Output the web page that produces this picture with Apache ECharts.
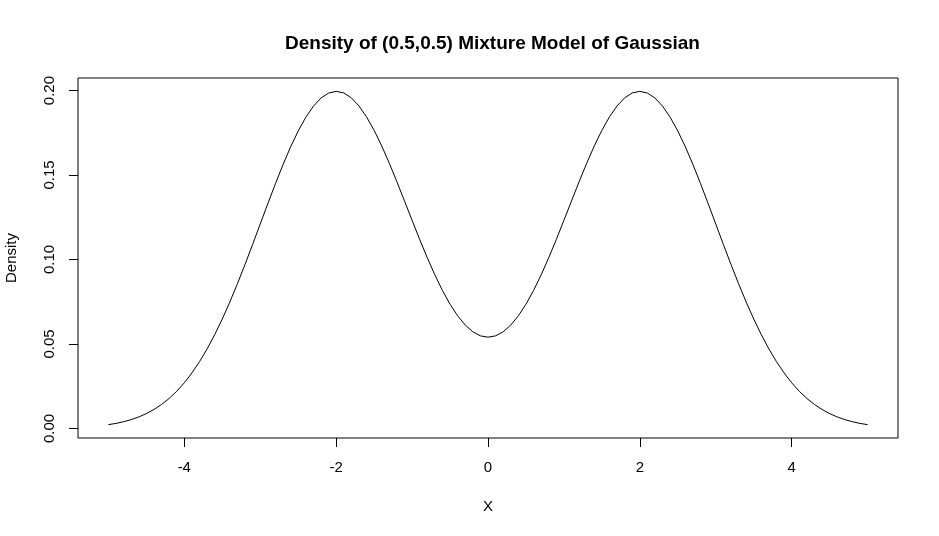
<!DOCTYPE html>
<html>
<head>
<meta charset="utf-8">
<script src="https://cdn.jsdelivr.net/npm/echarts@6/dist/echarts.min.js"></script>
<style>
html,body{margin:0;padding:0;background:#fff;}
#chart{width:939px;height:536px;}
</style>
</head>
<body>
<div id="chart"></div>
<script>
// x positions and density values
const xValues = [-5,-4.9,-4.8,-4.7,-4.6,-4.5,-4.4,-4.3,-4.2,-4.1,-4,-3.9,-3.8,-3.7,-3.6,-3.5,-3.4,-3.3,-3.2,-3.1,-3,-2.9,-2.8,-2.7,-2.6,-2.5,-2.4,-2.3,-2.2,-2.1,-2,-1.9,-1.8,-1.7,-1.6,-1.5,-1.4,-1.3,-1.2,-1.1,-1,-0.9,-0.8,-0.7,-0.6,-0.5,-0.4,-0.3,-0.2,-0.1,0,0.1,0.2,0.3,0.4,0.5,0.6,0.7,0.8,0.9,1,1.1,1.2,1.3,1.4,1.5,1.6,1.7,1.8,1.9,2,2.1,2.2,2.3,2.4,2.5,2.6,2.7,2.8,2.9,3,3.1,3.2,3.3,3.4,3.5,3.6,3.7,3.8,3.9,4,4.1,4.2,4.3,4.4,4.5,4.6,4.7,4.8,4.9,5];
const density = [0.00222,0.00298,0.00396,0.00521,0.00679,0.00876,0.01120,0.01416,0.01774,0.02199,0.02700,0.03281,0.03948,0.04703,0.05546,0.06476,0.07486,0.08569,0.09709,0.10893,0.12099,0.13305,0.14485,0.15613,0.16662,0.17604,0.18415,0.19071,0.19555,0.19852,0.19954,0.19858,0.19567,0.19091,0.18444,0.17647,0.16723,0.15699,0.14604,0.13468,0.12320,0.11190,0.10105,0.09090,0.08166,0.07352,0.06666,0.06119,0.05721,0.05480,0.05399,0.05480,0.05721,0.06119,0.06666,0.07352,0.08166,0.09090,0.10105,0.11190,0.12320,0.13468,0.14604,0.15699,0.16723,0.17647,0.18444,0.19091,0.19567,0.19858,0.19954,0.19852,0.19555,0.19071,0.18415,0.17604,0.16662,0.15613,0.14485,0.13305,0.12099,0.10893,0.09709,0.08569,0.07486,0.06476,0.05546,0.04703,0.03948,0.03281,0.02700,0.02199,0.01774,0.01416,0.01120,0.00876,0.00679,0.00521,0.00396,0.00298,0.00222];
const xTicks = [-4,-2,0,2,4];
const yTicks = [0,0.05,0.10,0.15,0.20];
const titleText = 'Density of (0.5,0.5) Mixture Model of Gaussian';
const xName = 'X';
const yName = 'Density';

const chart = echarts.init(document.getElementById('chart'), null, {renderer:'canvas'});
const font = 'Liberation Sans, Arial, sans-serif';
chart.setOption({
  animation:false,
  backgroundColor:'#fff',
  title:{text:titleText,left:280,top:29,textStyle:{fontFamily:font,fontSize:19,fontWeight:'bold',color:'#000'}},
  grid:{left:78,top:78,width:820,height:360,containLabel:false,outerBoundsMode:'none',show:true,borderColor:'#000',borderWidth:1,backgroundColor:'transparent'},
  xAxis:{type:'value',min:-5.4,max:5.4,position:'bottom',
    name:xName,nameLocation:'middle',nameGap:61,nameTextStyle:{fontFamily:font,fontSize:15,color:'#000'},
    axisLine:{show:false,onZero:false},
    axisTick:{show:true,inside:false,length:9,lineStyle:{color:'#000'},customValues:xTicks},
    axisLabel:{fontFamily:font,fontSize:15,color:'#000',margin:22,customValues:xTicks,formatter:v=>String(v)},
    splitLine:{show:false}},
  yAxis:{type:'value',min:-0.00567,max:0.20743,position:'left',
    name:yName,nameLocation:'middle',nameGap:59,nameTextStyle:{fontFamily:font,fontSize:15,color:'#000'},
    axisLine:{show:false,onZero:false},
    axisTick:{show:true,inside:false,length:9,lineStyle:{color:'#000'},customValues:yTicks},
    axisLabel:{fontFamily:font,fontSize:15,color:'#000',margin:21,rotate:90,customValues:yTicks,formatter:v=>v.toFixed(2)},
    splitLine:{show:false}},
  series:[{type:'line',data:xValues.map((x,i)=>[x,density[i]]),smooth:false,showSymbol:false,
    lineStyle:{color:'#000',width:1},clip:false}]
});
</script>
</body>
</html>
